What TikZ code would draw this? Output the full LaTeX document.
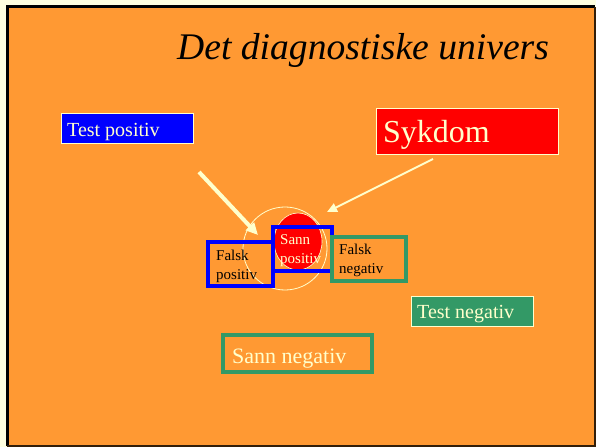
\documentclass[tikz,border=0pt]{standalone}
\usepackage{fontspec}
\setmainfont{Liberation Serif}
\usetikzlibrary{arrows.meta}
\definecolor{bg}{HTML}{FF9933}
\definecolor{cream}{HTML}{FFFFCC}
\definecolor{grn}{HTML}{339966}
\definecolor{blu}{HTML}{0000FF}
\definecolor{rd}{HTML}{FF0000}
\tikzset{
  fillbox/.style={draw=cream, line width=0.8bp, inner sep=0pt},
  framebox/.style={line width=3.5bp, inner sep=0pt},
  lbl/.style={anchor=base west, inner sep=0pt, font=\fontsize{15bp}{19bp}\selectfont, align=left},
  ptr/.style={draw=cream, -{Triangle[length=12bp,width=11bp]}},
}
\begin{document}
\begin{tikzpicture}[x=1bp,y=-1bp]
\useasboundingbox (0,0) rectangle (596,447);
\fill[cream!60!white] (0,0) rectangle (596,447);
\fill[bg] (6,6) rectangle (595,446);
\draw[black, line width=3bp] (7,446) -- (7,7) -- (595,7);
\draw[black!80!bg, line width=1.2bp] (7,446) -- (595,446) -- (595,7);
% title
\node[anchor=base west, inner sep=0pt, font=\fontsize{37.6bp}{42bp}\selectfont\itshape] (title) at (177,60) {Det diagnostiske univers};
% top boxes
\path[fillbox, fill=blu] (61,113) rectangle (193,143);
\node[anchor=base west, inner sep=0pt, text=cream, font=\fontsize{20bp}{24bp}\selectfont] (tp) at (67,137) {Test positiv};
\path[fillbox, fill=rd] (376,108) rectangle (558,154);
\node[anchor=base west, inner sep=0pt, text=cream, font=\fontsize{32bp}{36bp}\selectfont] (syk) at (383,143) {Sykdom};
% circles
\draw[cream, line width=0.8bp] (285,248.5) ellipse [x radius=42, y radius=41.5];
\draw[cream, line width=0.6bp, fill=rd] (298,241.5) ellipse [x radius=24, y radius=28.5];
% arrows
\coordinate (a1s) at (199,172);
\coordinate (a1e) at (258,235);
\coordinate (a2s) at (433,159);
\coordinate (a2e) at (327,212);
\draw[ptr, line width=4bp] (a1s) -- (a1e);
\draw[ptr, line width=2bp, -{Triangle[length=10bp,width=9bp]}] (a2s) -- (a2e);
% small boxes
\draw[framebox, draw=blu] (208,242) rectangle (273,286);
\node[lbl, text=black] (fp) at (216,280) {Falsk\\positiv};
\draw[framebox, draw=blu] (273,227) rectangle (332,271);
\node[lbl, text=cream] (sp) at (280,264) {Sann\\positiv};
\draw[framebox, draw=grn] (332,237) rectangle (406,281);
\node[lbl, text=black] (fn) at (339,274) {Falsk\\negativ};
% bottom
\path[fillbox, fill=grn] (411,296) rectangle (533,326);
\node[anchor=base west, inner sep=0pt, text=cream, font=\fontsize{20bp}{24bp}\selectfont] (tn) at (417,318) {Test negativ};
\draw[framebox, draw=grn] (223,335) rectangle (372,372);
\node[anchor=base west, inner sep=0pt, text=cream, font=\fontsize{22bp}{26bp}\selectfont] (sn) at (232,363) {Sann negativ};
\end{tikzpicture}
\end{document}
